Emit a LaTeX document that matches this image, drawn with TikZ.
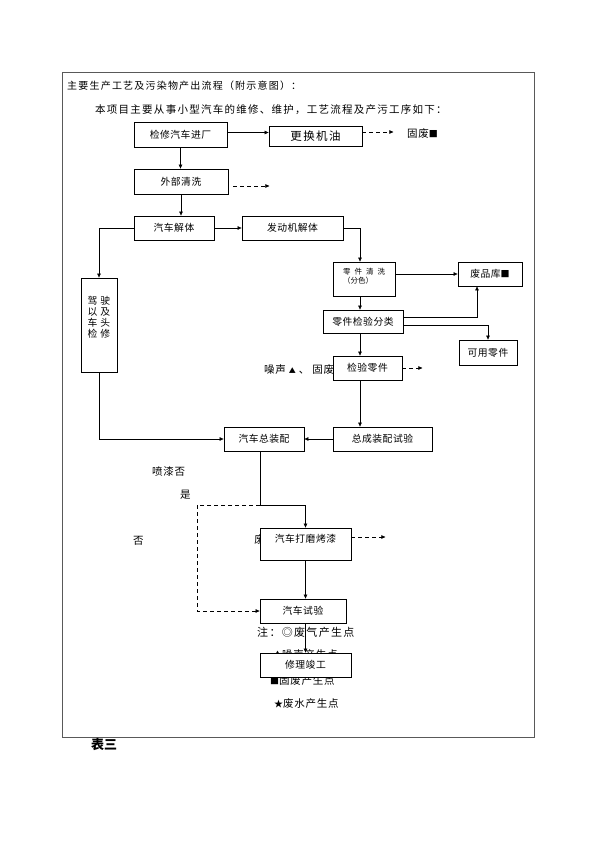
\documentclass[tikz,border=0pt]{standalone}
\usepackage{fontspec}
\setmainfont{Noto Sans CJK SC}
\usetikzlibrary{arrows.meta}

\newcommand{\boxfont}{\fontsize{9.8}{11}\selectfont\addfontfeatures{LetterSpace=5}}
\newcommand{\bigboxfont}{\fontsize{11.5}{12}\selectfont\addfontfeatures{LetterSpace=12}}
\newcommand{\smallfont}{\fontsize{7.5}{9}\selectfont}
\newcommand{\titlefont}{\fontsize{10}{12}\selectfont\addfontfeatures{LetterSpace=12}}
\newcommand{\introfont}{\fontsize{10.5}{12}\selectfont\addfontfeatures{LetterSpace=12}}
\newcommand{\notefont}{\fontsize{10.5}{12}\selectfont\addfontfeatures{LetterSpace=7}}

\begin{document}
\begin{tikzpicture}[x=1pt,y=-1pt,
    box/.style={draw, fill=white, line width=0.8pt, inner sep=0pt, font=\boxfont},
    arr/.style={-{Triangle[length=4pt,width=3.5pt]}, line width=0.6pt},
    dasharr/.style={arr, dash pattern=on 4pt off 3pt},
    dashline/.style={line width=0.6pt, dash pattern=on 4pt off 3pt},
    txt/.style={anchor=west, inner sep=0pt, font=\notefont}]
        \useasboundingbox (0,0) rectangle (595,842);
        \draw[gray!70!black, line width=0.8pt] (62,72) rectangle (534,737);

        \node[txt, font=\titlefont] (title) at (67,86) {主要生产工艺及污染物产出流程（附示意图）：};
        \node[txt, font=\introfont] (intro) at (95,110) {本项目主要从事小型汽车的维修、维护，工艺流程及产污工序如下：};

        % texts partly under the boxes
        \node[txt] (noise) at (264,370) {噪声\hspace{3pt}{\scriptsize▲}\hspace{3pt}、\hspace{3pt}固废};
        \node[txt, anchor=east] (gas) at (265,540) {废};
        \node[txt] (noteb) at (273,655) {{\small▲}噪声产生点};
        \node[txt] (notec) at (270,681) {{\small■}固废产生点};
        \node[txt] (noted) at (274,704) {{\small★}废水产生点};

        % boxes
        \node[box, minimum width=93pt, minimum height=25pt] (jx) at (180.5,134.5) {检修汽车进厂};
        \node[box, font=\bigboxfont, minimum width=93pt, minimum height=20pt] (gh) at (315.5,136) {更换机油};
        \node[txt] (ghw) at (407,134) {固废{\small■}};
        \node[box, minimum width=94pt, minimum height=25pt] (wb) at (181,181.5) {外部清洗};
        \node[box, minimum width=80pt, minimum height=24pt] (qj) at (174,228) {汽车解体};
        \node[box, minimum width=101pt, minimum height=24pt] (fd) at (292.5,228) {发动机解体};
        \node[box, minimum width=62pt, minimum height=34pt, font=\smallfont, align=left, text depth=6pt] (lx) at (364,279) {零\hspace{4pt}件\hspace{4pt}清\hspace{4pt}洗\\（分色）};
        \node[box, minimum width=64pt, minimum height=24pt] (fp) at (490,274) {废品库{\small■}};
        \node[box, minimum width=80pt, minimum height=23pt] (jf) at (363,321.5) {零件检验分类};
        \node[box, minimum width=58pt, minimum height=25pt] (ky) at (488,352.5) {可用零件};
        \node[box, minimum width=69pt, minimum height=24pt] (jl) at (367.5,368) {检验零件};
        \node[box, minimum width=36pt, minimum height=94pt] (js) at (99,325) {};
        \node[font=\boxfont, align=center, inner sep=0pt] (jstxt) at (99,317) {驾\hspace{3pt}驶\\以\hspace{3pt}及\\车\hspace{3pt}头\\检\hspace{3pt}修};
        \node[box, minimum width=80pt, minimum height=24pt] (zz) at (264,439) {汽车总装配};
        \node[box, minimum width=99pt, minimum height=24pt] (zc) at (382.5,439) {总成装配试验};
        \node[box, minimum width=91pt, minimum height=32pt, text depth=12pt] (dm) at (305.5,544) {汽车打磨烤漆};
        \node[box, minimum width=86pt, minimum height=24pt] (sy) at (303,611) {汽车试验};
        \node[txt, font=\fontsize{11}{12}\selectfont\addfontfeatures{LetterSpace=12}] (notea) at (257,632) {注：◎废气产生点};
        \node[box, minimum width=91pt, minimum height=24pt] (wg) at (305.5,665) {修理竣工};

        \node[txt] (ask) at (152,472) {喷漆否};
        \node[txt] (yes) at (180,495) {是};
        \node[txt] (no) at (133,541) {否};
        \node[anchor=west, inner sep=0pt, font=\fontsize{13}{14}\selectfont\bfseries] (tab) at (91,745) {表三};

        \coordinate (colx) at (360,0);
        \coordinate (fork) at (260,505);
        \coordinate (nobend) at (197,505);

        % connectors
        \draw[arr] ([yshift=2pt]jx.east) -- ([yshift=2pt]jx.east -| gh.west);
        \draw[dasharr] ([yshift=4pt]gh.east) -- ++(31,0);
        \draw[arr] (jx.south) -- (jx.south |- wb.north);
        \draw[dasharr] ([xshift=5pt,yshift=-4.5pt]wb.east) -- ++(36,0);
        \draw[arr] (wb.south) -- (wb.south |- qj.north);
        \draw[arr] (qj.east) -- (fd.west);
        \draw[arr] (fd.east) -| (lx.north -| colx);
        \draw[arr] (qj.west) -| (js.north);
        \draw[arr] (lx.east |- fp.west) -- (fp.west);
        \draw[arr] (lx.south -| colx) -- (jf.north -| colx);
        \draw[arr] ([yshift=4.5pt]jf.east) -| ([xshift=-13pt]fp.south);
        \draw[arr] ([yshift=-3.5pt]jf.east) -| (ky.north);
        \draw[arr] (jf.south -| colx) -- (jl.north -| colx);
        \draw[dasharr] (jl.east) -- ++(20,0);
        \draw[arr] (jl.south -| colx) -- (zc.north -| colx);
        \draw[arr] (zc.west) -- (zz.east);
        \draw[arr] (js.south) |- (zz.west);
        \draw[arr] (zz.south -| fork) -- (fork) -| (dm.north);
        \draw[dashline] (fork) -- (nobend);
        \draw[dasharr] (nobend) |- (sy.west);
        \draw[dasharr] ([yshift=7pt]dm.east) -- ++(34,0);
        \draw[arr] (dm.south) -- (dm.south |- sy.north);
        \draw[arr] (sy.south -| dm.south) -- (wg.north -| dm.south);
\end{tikzpicture}
\end{document}
